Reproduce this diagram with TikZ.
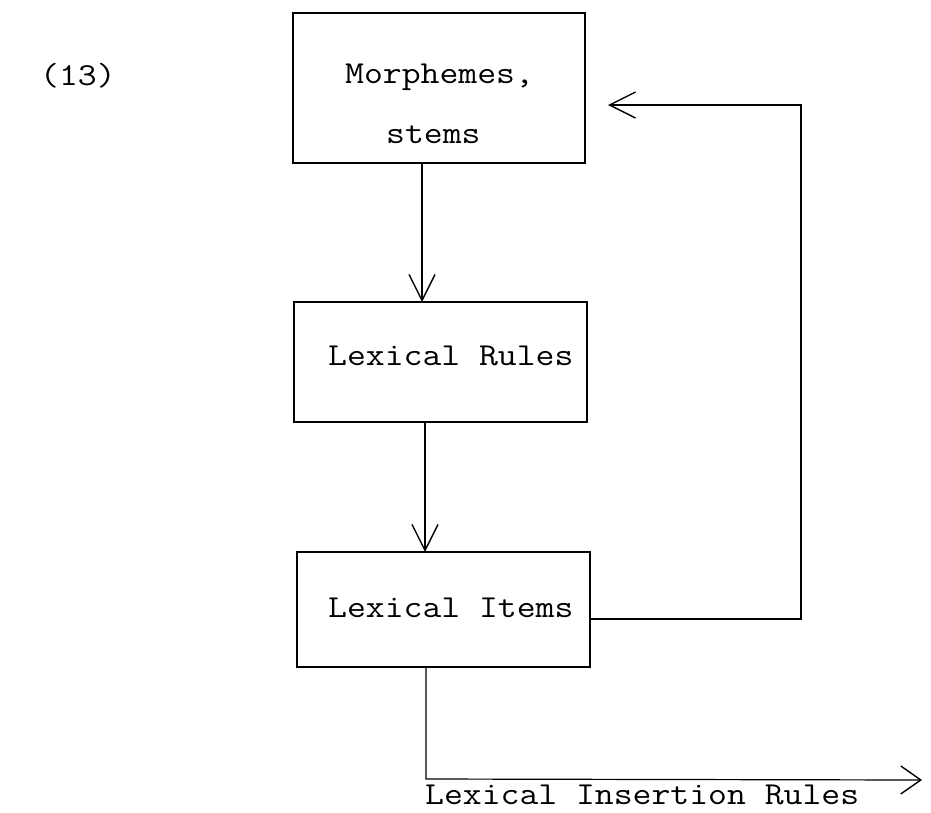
\documentclass[tikz,border=0pt]{standalone}
\usepackage{fontspec}
\newfontfamily\courfont[FakeStretch=1.145]{Latin Modern Mono}
\usetikzlibrary{arrows.meta}
\begin{document}
\begin{tikzpicture}[x=1pt,y=-1pt,
  box/.style={draw, line width=1.4pt, inner sep=0pt, outer sep=0pt},
  lbl/.style={font=\fontsize{32}{38}\courfont, inner sep=0pt, anchor=base west},
  conn/.style={line width=1.2pt, -{Straight Barb[length=26pt,width=26pt,line width=1.4pt]}},
  conn2/.style={line width=1.2pt, -{Straight Barb[length=20pt,width=28pt,line width=1.4pt]}}]
\useasboundingbox (0,0) rectangle (931,812);
\node[box, minimum width=292pt, minimum height=150pt] (b1) at (439,88) {};
\node[box, minimum width=293pt, minimum height=120pt] (b2) at (440.5,362) {};
\node[box, minimum width=293pt, minimum height=115pt] (b3) at (443.5,609.5) {};
\node[lbl] (t13) at (40,85) {(13)};
\node[lbl] (tm) at (345,83) {Morphemes,};
\node[lbl] (ts) at (386,143) {stems};
\node[lbl] (tr) at (328,365) {Lexical Rules};
\node[lbl] (ti) at (328,617) {Lexical Items};
\node[lbl] (tl) at (425,804) {Lexical Insertion Rules};
\coordinate (c1) at (422,0);
\coordinate (c2) at (425,0);
\coordinate (fy) at (0,619);
\coordinate (fr) at (801,0);
\coordinate (ft) at (608,105);
\coordinate (bx) at (426,0);
\coordinate (by) at (0,779);
\coordinate (bt) at (922,780);
\draw[conn] (b1.south -| c1) -- (b2.north -| c1);
\draw[conn] (b2.south -| c2) -- (b3.north -| c2);
\draw[conn] (b3.east |- fy) -- (fr |- fy) -- (fr |- ft) -- (ft);
\draw[conn2] (b3.south -| bx) -- (bx |- by) -- (bt);
\end{tikzpicture}
\end{document}
